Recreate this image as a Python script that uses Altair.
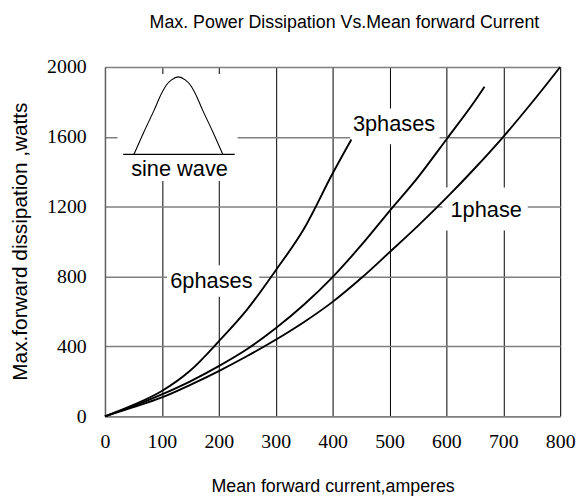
import altair as alt
import pandas as pd

# ---- data ----
current_6 = [0, 50, 100, 150, 200, 250, 300, 350, 400, 433]
power_6 = [0, 65, 145, 262, 429, 612, 835, 1075, 1390, 1585]

current_3 = [0, 50, 100, 150, 200, 250, 300, 350, 400, 450, 500, 550, 600, 650, 667]
power_3 = [0, 58, 125, 200, 287, 385, 504, 640, 797, 978, 1175, 1368, 1585, 1805, 1887]

current_1 = [0, 50, 100, 150, 200, 250, 300, 350, 400, 450, 500, 550, 600, 650, 700, 750, 800]
power_1 = [0, 52, 108, 180, 259, 345, 438, 540, 655, 790, 939, 1090, 1250, 1420, 1600, 1795, 2000]

# inset sketch of a sine half-wave (in chart units)
sine_x = [51, 68, 86, 100, 108, 117, 129, 141, 150, 158, 172, 190, 207]
sine_y = [1500, 1625, 1750, 1852, 1897, 1926, 1943, 1926, 1897, 1852, 1750, 1625, 1500]
base_x = [32, 228]
base_y = [1500, 1500]

labels = ["6phases", "3phases", "1phase", "sine wave"]
label_x = [187, 508, 670, 131]
label_y = [775, 1671, 1183, 1416]

# white areas behind the labels / inset
box_x1 = [109, 431, 593, 22]
box_x2 = [271, 588, 743, 233]
box_y1 = [685, 1557, 1064, 1347]
box_y2 = [865, 1762, 1310, 1960]

x_ticks = [0, 100, 200, 300, 400, 500, 600, 700, 800]
y_ticks = [0, 400, 800, 1200, 1600, 2000]

SANS = "Liberation Sans, Arial, sans-serif"
SERIF = "Liberation Serif, Times New Roman, serif"

curves = pd.concat([
    pd.DataFrame({"current": current_6, "power": power_6, "series": "6phases"}),
    pd.DataFrame({"current": current_3, "power": power_3, "series": "3phases"}),
    pd.DataFrame({"current": current_1, "power": power_1, "series": "1phase"}),
])
sine = pd.DataFrame({"current": sine_x, "power": sine_y})
base = pd.DataFrame({"current": base_x, "power": base_y})
texts = pd.DataFrame({"label": labels, "current": label_x, "power": label_y})
boxes = pd.DataFrame({"current": box_x1, "current2": box_x2, "power": box_y1, "power2": box_y2})

xs = alt.Scale(domain=[0, 800], nice=False, zero=True)
ys = alt.Scale(domain=[0, 2000], nice=False, zero=True)

x_axis = alt.Axis(
    values=x_ticks, format="d", grid=True, gridColor="#000000", gridWidth=1, gridOpacity=1,
    domainColor="#808080", domainWidth=1.5, ticks=False, tickSize=0,
    labelFont=SERIF, labelFontSize=20, labelColor="#000000", labelPadding=16,
    labelBaseline="top", labelFlush=False,
    title="Mean forward current,amperes", titleFont=SANS, titleFontSize=18,
    titleFontWeight="normal", titleColor="#000000", titleX=230, titleY=76,
    titleBaseline="alphabetic", titleAlign="center",
)
y_axis = alt.Axis(
    values=y_ticks, format="d", grid=True, gridColor="#808080", gridWidth=1.6, gridOpacity=1,
    domainColor="#606060", domainWidth=1.5, ticks=False, tickSize=0,
    labelFont=SERIF, labelFontSize=20, labelColor="#000000", labelPadding=19,
    labelFlush=False,
    title="Max.forward dissipation ,watts", titleFont=SANS, titleFontSize=21,
    titleFontWeight="normal", titleColor="#000000", titleX=-79, titleY=176,
    titleAngle=270, titleBaseline="alphabetic", titleAlign="center",
)

X = alt.X("current:Q", scale=xs, axis=x_axis)
Y = alt.Y("power:Q", scale=ys, axis=y_axis)

rects = alt.Chart(boxes).mark_rect(color="white", opacity=1).encode(
    x=X, x2="current2:Q", y=Y, y2="power2:Q",
)

lines = alt.Chart(curves).mark_line(color="black", strokeWidth=1.9, interpolate="monotone").encode(
    x=X, y=Y, detail="series:N",
)

sine_line = alt.Chart(sine).mark_line(color="black", strokeWidth=1.1, interpolate="monotone").encode(
    x=X, y=Y,
)
base_line = alt.Chart(base).mark_line(color="black", strokeWidth=1.2).encode(
    x=X, y=Y,
)

label_marks = alt.Chart(texts).mark_text(
    font=SANS, fontSize=22, color="black", align="center", baseline="middle"
).encode(
    x=X, y=Y, text="label:N",
)

chart = alt.layer(rects, lines, sine_line, base_line, label_marks).properties(
    width=460,
    height=353,
    autosize=alt.AutoSizeParams(type="none"),
    padding={"left": 98, "top": 57, "right": 18, "bottom": 80},
    title=alt.TitleParams(
        "Max. Power Dissipation Vs.Mean forward Current",
        font=SANS, fontSize=18, fontWeight="normal", color="black",
        anchor="middle", dx=12, offset=25,
    ),
).configure_view(stroke=None).configure(background="white")

chart.save("out.html", embed_options={"renderer": "svg", "actions": False})
